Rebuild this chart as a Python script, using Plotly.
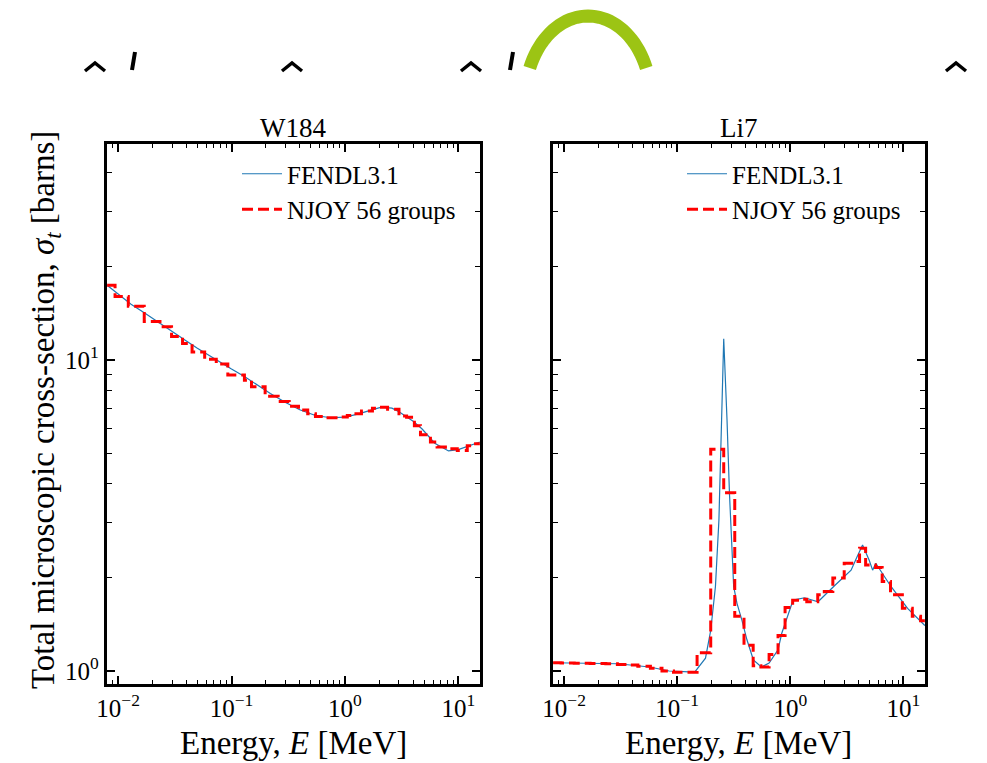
import math
import plotly.graph_objects as go

# ---------------- data ----------------
panel_titles = ["W184", "Li7"]
legend_names = ["FENDL3.1", "NJOY 56 groups"]

# group boundaries (MeV) of the multigroup structure inside the plotted range
group_edges = [0.008, 0.0094, 0.0123, 0.017, 0.0234, 0.0296, 0.037, 0.0449, 0.058,
               0.0734, 0.0928, 0.13, 0.15, 0.198, 0.258, 0.323, 0.39, 0.47, 0.55,
               0.65, 0.78, 0.9, 1.05, 1.2, 1.4, 1.75, 2.0, 2.38, 3.0, 3.5, 4.1,
               4.64, 5.68, 6.5, 7.7, 9.8, 12.0, 14.2, 15.5]

w184_njoy = [17.4, 16.0, 14.9, 13.3, 12.8, 11.9, 11.3, 10.6, 10.05, 9.7, 8.95, 8.6,
             8.2, 7.65, 7.35, 7.1, 6.9, 6.72, 6.58, 6.52, 6.52, 6.56, 6.63, 6.72,
             6.85, 7.0, 7.05, 6.95, 6.6, 6.55, 6.15, 5.75, 5.45, 5.25, 5.18, 5.12,
             5.3, 5.38]

li7_njoy = [1.063, 1.062, 1.06, 1.058, 1.055, 1.05, 1.045, 1.035, 1.02, 1.0, 0.99,
            0.99, 1.145, 5.16, 3.74, 1.50, 1.21, 1.04, 1.03, 1.13, 1.3, 1.6, 1.69,
            1.7, 1.67, 1.76, 1.8, 1.99, 2.22, 2.25, 2.48, 2.19, 2.15, 1.94, 1.76,
            1.59, 1.5, 1.45]

w184_fendl_E = [0.008, 0.01, 0.013, 0.017, 0.022, 0.03, 0.04, 0.05, 0.07, 0.1, 0.13,
                0.17, 0.22, 0.3, 0.4, 0.55, 0.75, 1.0, 1.3, 1.7, 2.1, 2.6, 3.0, 4.0,
                4.8, 6.2, 8.2, 10.0, 12.0, 15.5]
w184_fendl_xs = [17.4, 16.3, 15.1, 14.2, 13.3, 12.3, 11.5, 10.9, 10.1, 9.35, 8.85,
                 8.3, 7.8, 7.3, 6.92, 6.63, 6.52, 6.55, 6.7, 6.9, 7.05, 7.0, 6.82,
                 6.35, 6.0, 5.4, 5.1, 5.15, 5.28, 5.45]

li7_fendl_E = [0.008, 0.03, 0.057, 0.085, 0.128, 0.144, 0.178, 0.198, 0.218, 0.234,
               0.247, 0.258, 0.276, 0.29, 0.316, 0.338, 0.373, 0.414, 0.472, 0.556,
               0.65, 0.78, 0.84, 0.96, 1.06, 1.34, 1.76, 2.5, 3.45, 3.9, 4.36, 4.99,
               5.35, 5.7, 7.77, 10.9, 15.5]
li7_fendl_xs = [1.063, 1.055, 1.03, 1.0, 0.993, 0.995, 1.10, 1.35, 1.87, 3.06, 6.4,
                11.7, 6.4, 3.73, 1.87, 1.65, 1.46, 1.26, 1.085, 1.03, 1.06, 1.17,
                1.32, 1.51, 1.69, 1.72, 1.67, 1.89, 2.11, 2.33, 2.54, 2.27, 2.11,
                2.22, 1.87, 1.59, 1.40]

x_tickvals = [0.01, 0.1, 1, 10]
x_ticktext = ["10<sup>\u22122</sup>", "10<sup>\u22121</sup>", "10<sup>0</sup>", "10<sup>1</sup>"]
y_tickvals = [1, 10]
y_ticktext = ["10<sup>0</sup>", "10<sup>1</sup>"]
x_minor = [m * 10 ** k for k in (-3, -2, -1, 0, 1) for m in range(2, 10)]
y_minor = [m * 10 ** k for k in (0, 1) for m in range(2, 10)]

# page has an 8px body margin: figure is sized so that it fits the window
OFF = 8
W, H = 987 - OFF, 763 - OFF
FONT = "Liberation Serif"


def fx(x):
    return (x - OFF) / W


def fy(y):
    return 1 - (y - OFF) / H


def px(x, y):
    return fx(x), fy(y)


fig = go.Figure()

panels = [
    (w184_fendl_E, w184_fendl_xs, w184_njoy, "x", "y", "legend"),
    (li7_fendl_E, li7_fendl_xs, li7_njoy, "x2", "y2", "legend2"),
]
for fE, fxs, nj, xa, ya, lg in panels:
    fig.add_trace(go.Scatter(x=fE, y=fxs, mode="lines", name=legend_names[0],
                             line=dict(color="#1f77b4", width=1.2),
                             xaxis=xa, yaxis=ya, legend=lg))
    fig.add_trace(go.Scatter(x=group_edges, y=nj + [nj[-1]], mode="lines",
                             name=legend_names[1], line_shape="hv",
                             line=dict(color="red", width=3, dash="11px,5px"),
                             xaxis=xa, yaxis=ya, legend=lg))

xdom = [[fx(106.7), fx(480)], [fx(552.7), fx(925)]]
ydom = [fy(684), fy(144)]
xr = [-2.1006, 1.1915]
yr = [-0.0418, 1.6945]

common = dict(type="log", showline=True, linecolor="black", linewidth=2.8,
              mirror="ticks", ticks="inside", ticklen=8, tickwidth=2,
              tickcolor="black", showgrid=False, zeroline=False, automargin=False,
              tickfont=dict(family=FONT, size=25, color="black"))
minor_x = dict(tickvals=x_minor, ticks="inside", ticklen=4, tickwidth=1,
               tickcolor="black")
minor_y = dict(tickvals=y_minor, ticks="inside", ticklen=5, tickwidth=1,
               tickcolor="black")

fig.update_layout(
    width=W, height=H,
    margin=dict(l=0, r=0, t=0, b=0, pad=0),
    paper_bgcolor="white", plot_bgcolor="white",
    font=dict(family=FONT, color="black"),
    xaxis=dict(domain=xdom[0], range=xr, anchor="y", tickvals=x_tickvals,
               ticktext=x_ticktext, minor=minor_x, **common),
    xaxis2=dict(domain=xdom[1], range=xr, anchor="y2", tickvals=x_tickvals,
                ticktext=x_ticktext, minor=minor_x, **common),
    yaxis=dict(domain=ydom, range=yr, anchor="x", tickvals=y_tickvals,
               ticktext=y_ticktext, minor=minor_y, **common),
    yaxis2=dict(domain=ydom, range=yr, anchor="x2", tickvals=y_tickvals,
                showticklabels=False, minor=minor_y, **common),
    legend=dict(x=fx(237), y=fy(151), xanchor="left", yanchor="top",
                bgcolor="rgba(0,0,0,0)", font=dict(family=FONT, size=25),
                tracegroupgap=0, itemwidth=40),
    legend2=dict(x=fx(682), y=fy(151), xanchor="left", yanchor="top",
                 bgcolor="rgba(0,0,0,0)", font=dict(family=FONT, size=25),
                 tracegroupgap=0, itemwidth=40),
    showlegend=True,
)

ann = []
for i, t in enumerate(panel_titles):
    cx = (xdom[i][0] + xdom[i][1]) / 2
    ann.append(dict(text=t, x=cx, y=fy(128), xref="paper", yref="paper",
                    showarrow=False, xanchor="center", yanchor="middle",
                    font=dict(family=FONT, size=27)))
    ann.append(dict(text="Energy, <i>E</i> [MeV]", x=cx, y=fy(743),
                    xref="paper", yref="paper", showarrow=False,
                    xanchor="center", yanchor="middle",
                    font=dict(family=FONT, size=33)))
ann.append(dict(text="Total microscopic cross-section, <i>\u03c3<sub>t</sub></i> [barns]",
                x=fx(45), y=fy(410), xref="paper", yref="paper",
                showarrow=False, textangle=-90, xanchor="center",
                yanchor="middle", font=dict(family=FONT, size=33)))
fig.update_layout(annotations=ann)

# decorative clipped glyph fragments at the top of the picture
shapes = []
for cx in (95, 292, 471, 956):
    a = px(cx - 10, 71)
    b = px(cx, 63)
    c = px(cx + 10, 71)
    shapes.append(dict(type="path", xref="paper", yref="paper",
                       path=f"M {a[0]},{a[1]} L {b[0]},{b[1]} L {c[0]},{c[1]}",
                       line=dict(color="black", width=3.5)))
for cx in (133, 511):
    a = px(cx + 2, 52)
    b = px(cx - 1, 70)
    shapes.append(dict(type="line", xref="paper", yref="paper",
                       x0=a[0], y0=a[1], x1=b[0], y1=b[1],
                       line=dict(color="black", width=4)))
# green arch: elliptical arc cut at the bottom
ecx, ecy, erx, ery = 588, 100, 63, 84
t0 = math.asin((ecy - 68) / ery)
pts = []
for k in range(41):
    th = t0 + (math.pi - 2 * t0) * k / 40
    pts.append(px(ecx + erx * math.cos(th), ecy - ery * math.sin(th)))
path = "M " + " L ".join(f"{p[0]},{p[1]}" for p in pts)
shapes.append(dict(type="path", xref="paper", yref="paper", path=path,
                   line=dict(color="#9cc414", width=13)))
fig.update_layout(shapes=shapes)

fig.write_html("out.html")
